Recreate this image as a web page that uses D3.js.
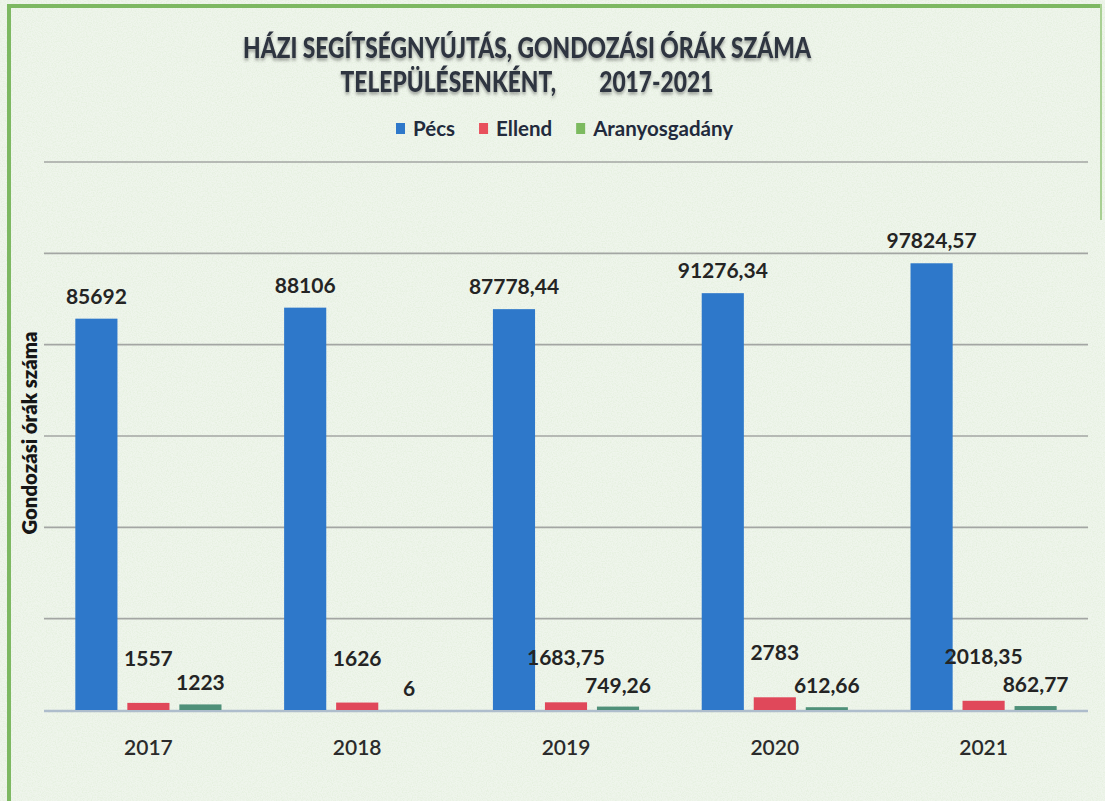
<!DOCTYPE html>
<html>
<head>
<meta charset="utf-8">
<script src="https://cdn.jsdelivr.net/npm/d3@7"></script>
<style>
  html, body { margin: 0; padding: 0; background: #f1f6ef; }
  svg { display: block; font-family: Lato, "Open Sans", sans-serif; }
</style>
</head>
<body>
<div id="chart"></div>
<script>
// data
const years = ["2017", "2018", "2019", "2020", "2021"];
const series = ["Pécs", "Ellend", "Aranyosgadány"];
const pecs = [85692, 88106, 87778.44, 91276.34, 97824.57];
const ellend = [1557, 1626, 1683.75, 2783, 2018.35];
const aranyos = [1223, 6, 749.26, 612.66, 862.77];
const yTicks = [0, 20000, 40000, 60000, 80000, 100000, 120000];

const barColors = ["#2e78ca", "#e0485a", "#4f9079"];
const legendColors = ["#2e78ca", "#e8505c", "#7cba5f"];
// labels of the small series were moved up by hand in the original
const labelLift = [15, 37, 14];

const width = 1105, height = 801;
const margin = { top: 162, right: 17, bottom: 91, left: 44 };

const rows = years.map((y, i) => ({ year: y, values: [pecs[i], ellend[i], aranyos[i]] }));

const svg = d3.select("#chart").append("svg")
    .attr("width", width)
    .attr("height", height);

const defs = svg.append("defs");
const noise = defs.append("filter").attr("id", "paper")
    .attr("x", 0).attr("y", 0).attr("width", "100%").attr("height", "100%");
noise.append("feTurbulence").attr("type", "fractalNoise")
    .attr("baseFrequency", 0.8).attr("numOctaves", 2).attr("seed", 3);
noise.append("feColorMatrix").attr("type", "matrix")
    .attr("values", "0 0 0 0 0.55  0 0 0 0 0.74  0 0 0 0 0.45  0 0 0 1.1 -0.4");
const shadow = defs.append("filter").attr("id", "shadow")
    .attr("x", "-5%").attr("y", "-20%").attr("width", "110%").attr("height", "160%");
shadow.append("feDropShadow").attr("dx", 0).attr("dy", 2.5)
    .attr("stdDeviation", 1.6).attr("flood-color", "#000").attr("flood-opacity", 0.35);

// paper background
svg.append("rect").attr("width", width).attr("height", height).attr("fill", "#eff5ec");
svg.append("rect").attr("width", width).attr("height", height)
    .attr("filter", "url(#paper)").attr("opacity", 0.45);

// green frame (top, left, faint right)
svg.append("line").attr("x1", 7).attr("x2", 1101).attr("y1", 6).attr("y2", 6)
    .attr("stroke", "#7db862").attr("stroke-width", 4);
svg.append("line").attr("x1", 9).attr("x2", 9).attr("y1", 4).attr("y2", height)
    .attr("stroke", "#7db862").attr("stroke-width", 4);
svg.append("line").attr("x1", 1101).attr("x2", 1101).attr("y1", 4).attr("y2", 220)
    .attr("stroke", "#a9d094").attr("stroke-width", 2);

const x0 = d3.scaleBand()
    .domain(years)
    .range([margin.left, width - margin.right])
    .paddingInner(0.3)
    .paddingOuter(0.15);

const x1 = d3.scaleBand()
    .domain(series)
    .range([0, x0.bandwidth()])
    .paddingInner(0.19);

const y = d3.scaleLinear()
    .domain([0, 120000])
    .range([height - margin.bottom, margin.top]);

const fmt = v => String(v).replace(".", ",");

// gridlines
svg.append("g")
    .selectAll("line")
    .data(yTicks.slice(1))
    .join("line")
        .attr("x1", margin.left)
        .attr("x2", width - margin.right)
        .attr("y1", d => y(d))
        .attr("y2", d => y(d))
        .attr("stroke", "#a3a6a3")
        .attr("stroke-width", 1.6);

// baseline
svg.append("line")
    .attr("x1", margin.left).attr("x2", width - margin.right)
    .attr("y1", y(0) + 1).attr("y2", y(0) + 1)
    .attr("stroke", "#aebdcc").attr("stroke-width", 2.5);

// bars
const groups = svg.append("g")
    .selectAll("g")
    .data(rows)
    .join("g")
        .attr("transform", d => `translate(${x0(d.year)},0)`);

groups.selectAll("rect")
    .data(d => d.values.map((v, i) => ({ key: series[i], i: i, value: v })))
    .join("rect")
        .attr("x", d => x1(d.key))
        .attr("width", x1.bandwidth())
        .attr("y", d => y(d.value))
        .attr("height", d => y(0) - y(d.value))
        .attr("fill", d => barColors[d.i]);

// value labels
groups.selectAll("text")
    .data(d => d.values.map((v, i) => ({ key: series[i], i: i, value: v })))
    .join("text")
        .attr("x", d => x1(d.key) + x1.bandwidth() / 2)
        .attr("y", d => y(d.value) - labelLift[d.i])
        .attr("text-anchor", "middle")
        .attr("font-size", 21)
        .attr("font-weight", 700)
        .attr("fill", "#242424")
        .text(d => fmt(d.value));

// x axis labels
svg.append("g")
    .selectAll("text")
    .data(years)
    .join("text")
        .attr("x", d => x0(d) + x0.bandwidth() / 2)
        .attr("y", y(0) + 45)
        .attr("text-anchor", "middle")
        .attr("font-size", 21)
        .attr("font-weight", 600)
        .attr("fill", "#2b2b2b")
        .text(d => d);

// y axis title
svg.append("text")
    .attr("transform", `translate(37,${(margin.top + y(0)) / 2 - 3}) rotate(-90)`)
    .attr("text-anchor", "middle")
    .attr("font-size", 21)
    .attr("font-weight", 800)
    .attr("fill", "#161616")
    .attr("textLength", 203)
    .attr("lengthAdjust", "spacingAndGlyphs")
    .text("Gondozási órák száma");

// title: first line squeezed to the scanned width, second line scaled the same way
const title = svg.append("g").attr("filter", "url(#shadow)")
    .attr("font-weight", 900).attr("fill", "#2f3440").attr("font-size", 28);
const line1 = title.append("text")
    .attr("x", 243).attr("y", 58)
    .text("HÁZI SEGÍTSÉGNYÚJTÁS, GONDOZÁSI ÓRÁK SZÁMA");
const squeeze = 568 / line1.node().getComputedTextLength();
line1.attr("textLength", 568).attr("lengthAdjust", "spacingAndGlyphs");

const partA = title.append("text").attr("y", 92).text("TELEPÜLÉSENKÉNT,");
const partB = title.append("text").attr("y", 92).text("2017-2021");
const wA = partA.node().getComputedTextLength() * squeeze;
const wB = partB.node().getComputedTextLength() * squeeze;
const gap = 43;
const startX = 527 - (wA + gap + wB) / 2;
partA.attr("x", startX).attr("textLength", wA).attr("lengthAdjust", "spacingAndGlyphs");
partB.attr("x", startX + wA + gap).attr("textLength", wB).attr("lengthAdjust", "spacingAndGlyphs");

// legend
const legend = svg.append("g");
let lx = 396;
series.forEach((s, i) => {
    legend.append("rect")
        .attr("x", lx).attr("y", 123)
        .attr("width", 9).attr("height", 11)
        .attr("fill", legendColors[i]);
    const t = legend.append("text")
        .attr("x", lx + 17).attr("y", 136)
        .attr("font-size", 20.5)
        .attr("font-weight", 700)
        .attr("fill", "#222a3c")
        .text(s);
    lx = lx + 17 + t.node().getComputedTextLength() + 24;
});
</script>
</body>
</html>
